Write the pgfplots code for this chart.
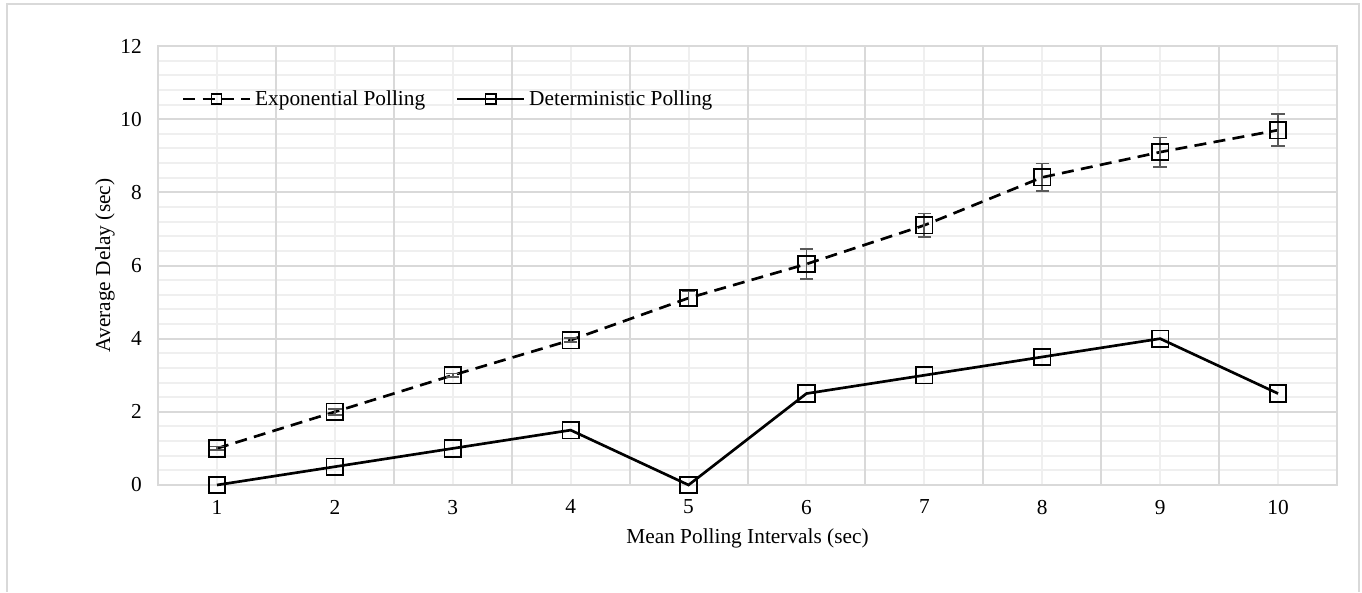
\documentclass[border=0pt]{standalone}
\usepackage{fontspec}
\setmainfont{Liberation Serif}
\usepackage{pgfplots}
\pgfplotsset{compat=1.18}
\definecolor{gmaj}{HTML}{D9D9D9}
\definecolor{gmin}{HTML}{EFEFEF}
\definecolor{errc}{HTML}{595959}
\begin{document}
\begin{tikzpicture}
\begin{axis}[
  scale only axis,
  width=884.25pt, height=329.25pt,
  xmin=0.5, xmax=10.5, ymin=0, ymax=12,
  xtick={1,...,10},
  ytick={0,2,...,12},
  minor y tick num=4,
  extra x ticks={1.5,2.5,...,9.5},
  extra x tick labels={},
  extra x tick style={major x grid style={gmaj, line width=1.5pt}},
  major tick length=0pt, minor tick length=0pt,
  xmajorgrids, ymajorgrids, yminorgrids,
  major x grid style={gmin, line width=1.5pt},
  major y grid style={gmaj, line width=1.5pt},
  minor y grid style={gmin, line width=1.5pt},
  axis line style={gmaj, line width=1.5pt},
  /pgf/number format/assume math mode=true,
  tick label style={font=\fontsize{16}{19}\selectfont},
  yticklabel style={anchor=east, inner sep=0pt, xshift=-12pt},
  xticklabel style={anchor=north, inner sep=0pt, yshift=-11pt},
  label style={font=\fontsize{16}{19}\selectfont},
  xlabel={Mean Polling Intervals (sec)},
  ylabel={Average Delay (sec)},
  xlabel style={at={(axis description cs:0.5,0)}, anchor=center, yshift=-40pt},
  ylabel style={at={(axis description cs:-0.045,0.5)}, anchor=center},
  legend style={draw=none, fill=none, at={(axis description cs:0.02,0.879)}, anchor=west,
    legend columns=2, font=\fontsize{16}{19}\selectfont, inner sep=0pt,
    /tikz/every even column/.append style={column sep=20pt},
    nodes={inner sep=3pt}},
  legend image code/.code={\draw[mark repeat=2,mark phase=2,mark size=3.8pt] plot coordinates {(0pt,0pt)(25pt,0pt)(50pt,0pt)};},
  clip=false,
]
\addplot[black, line width=2pt, dash pattern=on 9pt off 5.5pt, mark=square, mark size=6.2pt,
  mark options={solid, line width=1.3pt, fill=none},
  error bars/.cd, y dir=both, y explicit,
  error bar style={errc, line width=1.3pt, solid},
  error mark options={errc, line width=1.3pt, mark size=5pt, rotate=90, solid}]
  coordinates {
  (1,1.0) +- (0,0.05)
  (2,2.0) +- (0,0.08)
  (3,3.0) +- (0,0.05)
  (4,3.96) +- (0,0.06)
  (5,5.11) +- (0,0.2)
  (6,6.04) +- (0,0.41)
  (7,7.1) +- (0,0.32)
  (8,8.41) +- (0,0.38)
  (9,9.1) +- (0,0.4)
  (10,9.7) +- (0,0.44)
  };
\addlegendentry{Exponential Polling}
\addplot[black, line width=2pt, mark=square, mark size=6.2pt,
  mark options={solid, line width=1.3pt, fill=none}]
  coordinates {
  (1,0) (2,0.5) (3,1.0) (4,1.5) (5,0) (6,2.5) (7,3.0) (8,3.5) (9,4.0) (10,2.5)
  };
\addlegendentry{Deterministic Polling}
\end{axis}
\path (-118.5pt,-77.25pt) rectangle (903pt,363.75pt);
\draw[gmaj, line width=1.5pt] (-113.25pt,-80pt) -- (-113.25pt,360.75pt) -- (900.75pt,360.75pt) -- (900.75pt,-80pt);
\end{tikzpicture}
\end{document}
